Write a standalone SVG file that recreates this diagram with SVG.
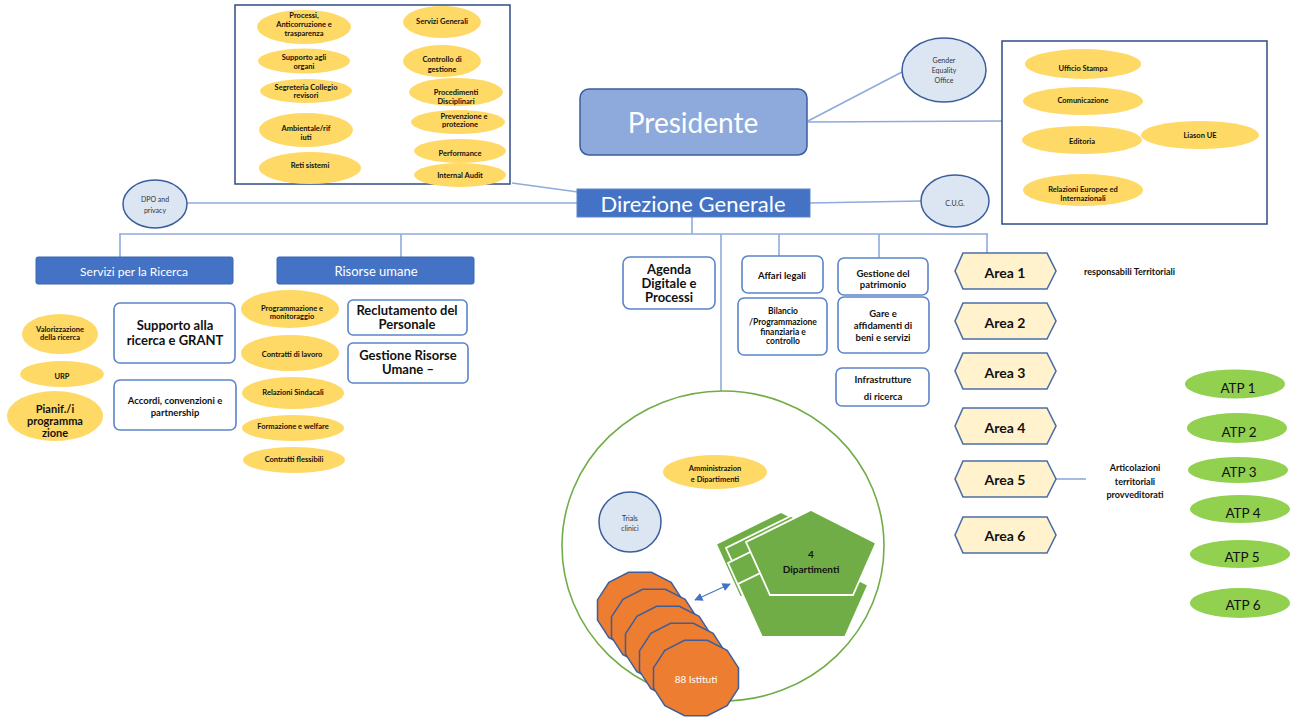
<svg xmlns="http://www.w3.org/2000/svg" width="1297" height="720" viewBox="0 0 1297 720">
<style>
text{font-family:Lato,"Liberation Sans",Arial,sans-serif;text-anchor:middle;dominant-baseline:central;fill:#111}
.y{fill:#FFD966;stroke:none}
.yt{font-size:7.5px;font-weight:bold}
.frame{fill:#fff;stroke:#2F4B85;stroke-width:1.5}
.conn{stroke:#8FAADC;stroke-width:1.6;fill:none}
.lc{fill:#DCE6F3;stroke:#3A5D9C;stroke-width:1.5}
.lct{font-size:7px;fill:#333}
.bar{fill:#4472C4;stroke:#3B66B0;stroke-width:1}
.bt{fill:#fff}
.box{fill:#fff;stroke:#5B84C9;stroke-width:1.6}
.b13{font-size:13px;font-weight:bold}
.b9{font-size:9.5px;font-weight:bold}
.hex{fill:#FFF2CC;stroke:#4A6FA8;stroke-width:1.6}
.ht{font-size:14px;font-weight:bold}
.atp{fill:#92D050}
.atpt{font-size:13.5px}
.pent{fill:#70AD47;stroke:#fff;stroke-width:1.8;stroke-linejoin:miter}
.oct{fill:#ED7D31;stroke:#3E5E99;stroke-width:1.5}
</style>
<defs>
<polygon id="dodec" points="42.5,10.1 31.1,27.6 11.4,37.7 -11.4,37.7 -31.1,27.6 -42.5,10.1 -42.5,-10.1 -31.1,-27.6 -11.4,-37.7 11.4,-37.7 31.1,-27.6 42.5,-10.1"/>
<polygon id="pentagon" points="811,510 876,543 853,595 770,595 746,542"/>
<marker id="ah" viewBox="0 0 10 10" refX="9" refY="5" markerWidth="7" markerHeight="7" orient="auto-start-reverse"><path d="M0,0 L10,5 L0,10 z" fill="#4472C4"/></marker>
</defs>
<rect width="1297" height="720" fill="#fff"/>

<g id="connectors">
<line class="conn" x1="808" y1="121" x2="902" y2="72"/>
<line class="conn" x1="808" y1="122" x2="1002" y2="121"/>
<line class="conn" x1="512" y1="183" x2="578" y2="192"/>
<line class="conn" x1="187" y1="203" x2="577" y2="203"/>
<line class="conn" x1="810" y1="203" x2="921" y2="201"/>
<line class="conn" x1="692" y1="217" x2="692" y2="234"/>
<line class="conn" x1="119" y1="234" x2="988" y2="234"/>
<line class="conn" x1="120" y1="234" x2="120" y2="257"/>
<line class="conn" x1="401" y1="234" x2="401" y2="257"/>
<line class="conn" x1="721" y1="234" x2="721" y2="391"/>
<line class="conn" x1="779" y1="234" x2="779" y2="256"/>
<line class="conn" x1="879" y1="234" x2="879" y2="258"/>
<line class="conn" x1="987" y1="234" x2="987" y2="253"/>
<line class="conn" x1="1056" y1="479" x2="1086" y2="479"/>
<line x1="695" y1="600" x2="730" y2="584" stroke="#4472C4" stroke-width="1.2" marker-start="url(#ah)" marker-end="url(#ah)"/>
</g>

<g id="staff-box">
<rect class="frame" x="235" y="5" width="275" height="179"/>
<ellipse class="y" cx="304" cy="27" rx="47" ry="17"/>
<text class="yt"><tspan x="304" y="15">Processi,</tspan><tspan x="304" y="24">Anticorruzione e</tspan><tspan x="304" y="33">trasparenza</tspan></text>
<ellipse class="y" cx="304" cy="61" rx="46" ry="12.5"/>
<text class="yt"><tspan x="304" y="57">Supporto agli</tspan><tspan x="304" y="66">organi</tspan></text>
<ellipse class="y" cx="306" cy="91" rx="46" ry="12"/>
<text class="yt"><tspan x="306" y="87">Segreteria Collegio</tspan><tspan x="306" y="95">revisori</tspan></text>
<ellipse class="y" cx="306" cy="130" rx="47" ry="17"/>
<text class="yt"><tspan x="306" y="128">Ambientale/rif</tspan><tspan x="306" y="137">iuti</tspan></text>
<ellipse class="y" cx="310" cy="168" rx="51" ry="16"/>
<text class="yt" x="310" y="165">Reti sistemi</text>
<ellipse class="y" cx="442" cy="22" rx="39" ry="16"/>
<text class="yt" x="442" y="21">Servizi Generali</text>
<ellipse class="y" cx="442" cy="61" rx="39" ry="16"/>
<text class="yt"><tspan x="442" y="59">Controllo di</tspan><tspan x="442" y="69">gestione</tspan></text>
<ellipse class="y" cx="456" cy="92" rx="47" ry="14"/>
<text class="yt"><tspan x="456" y="92">Procedimenti</tspan><tspan x="456" y="101">Disciplinari</tspan></text>
<ellipse class="y" cx="458" cy="122" rx="47" ry="12"/>
<text class="yt"><tspan x="464" y="116">Prevenzione e</tspan><tspan x="460" y="124">protezione</tspan></text>
<ellipse class="y" cx="460" cy="151" rx="46" ry="12"/>
<text class="yt" x="460" y="153">Performance</text>
<ellipse class="y" cx="460" cy="175" rx="46" ry="12"/>
<text class="yt" x="460" y="175">Internal Audit</text>
</g>

<g id="presidente">
<rect x="580" y="89" width="227" height="66" rx="9" fill="#8EA9DB" stroke="#3A5D9C" stroke-width="1.5"/>
<text x="693" y="122" font-size="28" class="bt">Presidente</text>
</g>

<g id="gender-office">
<ellipse class="lc" cx="944" cy="70" rx="42" ry="32"/>
<text class="lct"><tspan x="944" y="60">Gender</tspan><tspan x="944" y="70">Equality</tspan><tspan x="944" y="80">Office</tspan></text>
</g>

<g id="press-box">
<rect class="frame" x="1002" y="41" width="265" height="183"/>
<ellipse class="y" cx="1083" cy="64" rx="58" ry="15"/>
<text class="yt" x="1083" y="68">Ufficio Stampa</text>
<ellipse class="y" cx="1083" cy="101" rx="60" ry="14"/>
<text class="yt" x="1083" y="100">Comunicazione</text>
<ellipse class="y" cx="1082" cy="140" rx="60" ry="14"/>
<text class="yt" x="1082" y="141">Editoria</text>
<ellipse class="y" cx="1200" cy="135" rx="59" ry="14"/>
<text class="yt" x="1200" y="135">Liason UE</text>
<ellipse class="y" cx="1083" cy="190" rx="60" ry="16"/>
<text class="yt"><tspan x="1083" y="189">Relazioni Europee ed</tspan><tspan x="1083" y="198">Internazionali</tspan></text>
</g>

<g id="dpo">
<ellipse class="lc" cx="155" cy="204" rx="32" ry="24"/>
<text class="lct"><tspan x="155" y="199">DPO and</tspan><tspan x="155" y="210">privacy</tspan></text>
</g>

<g id="direzione">
<rect x="577" y="189" width="233" height="28" fill="#4472C4" stroke="#5B84C9" stroke-width="1"/>
<text x="693" y="203" font-size="22" class="bt">Direzione Generale</text>
</g>

<g id="cug">
<ellipse class="lc" cx="955" cy="201" rx="34" ry="26"/>
<text class="lct" x="955" y="203">C.U.G.</text>
</g>

<g id="servizi-ricerca">
<rect class="bar" x="36" y="257" width="197" height="27" rx="2"/>
<text class="bt" x="134" y="271" font-size="12">Servizi per la Ricerca</text>
<ellipse class="y" cx="60" cy="334" rx="38" ry="20"/>
<text class="yt" font-size="7"><tspan x="60" y="329">Valorizzazione</tspan><tspan x="60" y="337">della ricerca</tspan></text>
<ellipse class="y" cx="62" cy="374" rx="42" ry="13"/>
<text class="yt" x="62" y="376">URP</text>
<ellipse class="y" cx="55" cy="416" rx="48" ry="25"/>
<text font-size="11" font-weight="bold"><tspan x="55" y="408">Pianif./i</tspan><tspan x="55" y="420">programma</tspan><tspan x="55" y="432">zione</tspan></text>
<rect class="box" x="114" y="303" width="121" height="60" rx="6"/>
<text class="b13"><tspan x="175" y="325">Supporto alla</tspan><tspan x="175" y="340">ricerca e GRANT</tspan></text>
<rect class="box" x="114" y="380" width="122" height="50" rx="6"/>
<text class="b9"><tspan x="175" y="400">Accordi, convenzioni e</tspan><tspan x="175" y="412">partnership</tspan></text>
</g>

<g id="risorse-umane">
<rect class="bar" x="277" y="257" width="197" height="27" rx="2"/>
<text class="bt" x="376" y="271" font-size="13">Risorse umane</text>
<ellipse class="y" cx="290" cy="309" rx="49" ry="19"/>
<text class="yt" font-size="7"><tspan x="292" y="308">Programmazione e</tspan><tspan x="292" y="316">monitoraggio</tspan></text>
<ellipse class="y" cx="290" cy="353" rx="49" ry="18"/>
<text class="yt" font-size="7" x="292" y="354">Contratti di lavoro</text>
<ellipse class="y" cx="293" cy="393" rx="51" ry="16"/>
<text class="yt" font-size="7" x="293" y="392">Relazioni Sindacali</text>
<ellipse class="y" cx="293" cy="428" rx="51" ry="13"/>
<text class="yt" font-size="7" x="293" y="426">Formazione e welfare</text>
<ellipse class="y" cx="294" cy="460" rx="51" ry="13"/>
<text class="yt" font-size="7" x="294" y="459">Contratti flessibili</text>
<rect class="box" x="348" y="300" width="119" height="35" rx="5"/>
<text class="b13"><tspan x="407" y="310">Reclutamento del</tspan><tspan x="407" y="324">Personale</tspan></text>
<rect class="box" x="348" y="343" width="120" height="40" rx="5"/>
<text class="b13"><tspan x="408" y="355">Gestione Risorse</tspan><tspan x="408" y="369">Umane –</tspan></text>
</g>

<g id="agenda-digitale">
<rect class="box" x="623" y="257" width="92" height="52" rx="7"/>
<text class="b13"><tspan x="669" y="269">Agenda</tspan><tspan x="669" y="283">Digitale e</tspan><tspan x="669" y="297">Processi</tspan></text>
</g>

<g id="affari-legali">
<rect class="box" x="742" y="256" width="81" height="37" rx="6"/>
<text class="b9" x="782" y="275">Affari legali</text>
</g>
<g id="bilancio">
<rect class="box" x="738" y="298" width="89" height="57" rx="6"/>
<text font-size="8.5" font-weight="bold"><tspan x="783" y="311">Bilancio</tspan><tspan x="783" y="322">/Programmazione</tspan><tspan x="783" y="332">finanziaria e</tspan><tspan x="783" y="341">controllo</tspan></text>
</g>
<g id="gestione-patrimonio">
<rect class="box" x="838" y="258" width="90" height="37" rx="6"/>
<text class="b9"><tspan x="883" y="273">Gestione del</tspan><tspan x="883" y="284">patrimonio</tspan></text>
</g>
<g id="gare">
<rect class="box" x="838" y="297" width="91" height="56" rx="6"/>
<text class="b9"><tspan x="883" y="313">Gare e</tspan><tspan x="883" y="325">affidamenti di</tspan><tspan x="883" y="337">beni e servizi</tspan></text>
</g>
<g id="infrastrutture">
<rect class="box" x="836" y="368" width="93" height="38" rx="6"/>
<text class="b9"><tspan x="883" y="379">Infrastrutture</tspan><tspan x="883" y="396">di ricerca</tspan></text>
</g>

<g id="rete-scientifica">
<ellipse cx="723" cy="546" rx="161" ry="155" fill="none" stroke="#70AD47" stroke-width="1.6"/>
<ellipse class="y" cx="715" cy="472" rx="52" ry="17"/>
<text class="yt" font-size="7"><tspan x="715" y="468">Amministrazion</tspan><tspan x="715" y="479">e Dipartimenti</tspan></text>
</g>

<g id="trials">
<ellipse class="lc" cx="630" cy="522" rx="31" ry="30"/>
<text class="lct"><tspan x="630" y="518">Trials</tspan><tspan x="630" y="528">clinici</tspan></text>
</g>

<g id="dipartimenti">
<use href="#pentagon" class="pent" x="-30" y="2"/>
<use href="#pentagon" class="pent" x="-20" y="6"/>
<use href="#pentagon" class="pent" x="-18" y="21"/>
<use href="#pentagon" class="pent" x="-8" y="42"/>
<use href="#pentagon" class="pent"/>
<text font-size="10" font-weight="bold"><tspan x="811" y="554">4</tspan><tspan x="811" y="569">Dipartimenti</tspan></text>
</g>

<g id="istituti">
<use href="#dodec" class="oct" x="640" y="610"/>
<use href="#dodec" class="oct" x="654" y="627"/>
<use href="#dodec" class="oct" x="668" y="644"/>
<use href="#dodec" class="oct" x="682" y="661"/>
<use href="#dodec" class="oct" x="696" y="678"/>
<text x="696" y="679" font-size="10" class="bt">88 Istituti</text>
</g>

<g id="area-1"><polygon class="hex" points="955,271 963,253 1047,253 1056,271 1047,289 963,289"/><text class="ht" x="1005" y="272">Area 1</text></g>
<g id="area-2"><polygon class="hex" points="955,321 963,303 1047,303 1056,321 1047,339 963,339"/><text class="ht" x="1005" y="322">Area 2</text></g>
<g id="area-3"><polygon class="hex" points="955,371 963,353 1047,353 1056,371 1047,389 963,389"/><text class="ht" x="1005" y="372">Area 3</text></g>
<g id="area-4"><polygon class="hex" points="955,426 963,408 1047,408 1056,426 1047,444 963,444"/><text class="ht" x="1005" y="427">Area 4</text></g>
<g id="area-5"><polygon class="hex" points="955,479 963,461 1047,461 1056,479 1047,497 963,497"/><text class="ht" x="1005" y="479">Area 5</text></g>
<g id="area-6"><polygon class="hex" points="955,535 963,517 1047,517 1056,535 1047,553 963,553"/><text class="ht" x="1005" y="535">Area 6</text></g>

<g id="labels">
<text x="1084" y="271" font-size="9" font-weight="bold" style="text-anchor:start">responsabili Territoriali</text>
<text font-size="9" font-weight="bold"><tspan x="1135" y="467">Articolazioni</tspan><tspan x="1135" y="481">territoriali</tspan><tspan x="1135" y="494">provveditorati</tspan></text>
</g>

<g id="atp-1"><ellipse class="atp" cx="1235" cy="384" rx="50" ry="14.5"/><text class="atpt" x="1238" y="388">ATP 1</text></g>
<g id="atp-2"><ellipse class="atp" cx="1237" cy="428" rx="50" ry="15"/><text class="atpt" x="1239" y="432">ATP 2</text></g>
<g id="atp-3"><ellipse class="atp" cx="1238" cy="470" rx="50" ry="13"/><text class="atpt" x="1239" y="472">ATP 3</text></g>
<g id="atp-4"><ellipse class="atp" cx="1240" cy="509" rx="50" ry="14"/><text class="atpt" x="1243" y="513">ATP 4</text></g>
<g id="atp-5"><ellipse class="atp" cx="1240" cy="554" rx="50" ry="14"/><text class="atpt" x="1242" y="557">ATP 5</text></g>
<g id="atp-6"><ellipse class="atp" cx="1240" cy="603" rx="50" ry="15"/><text class="atpt" x="1243" y="605">ATP 6</text></g>
</svg>
